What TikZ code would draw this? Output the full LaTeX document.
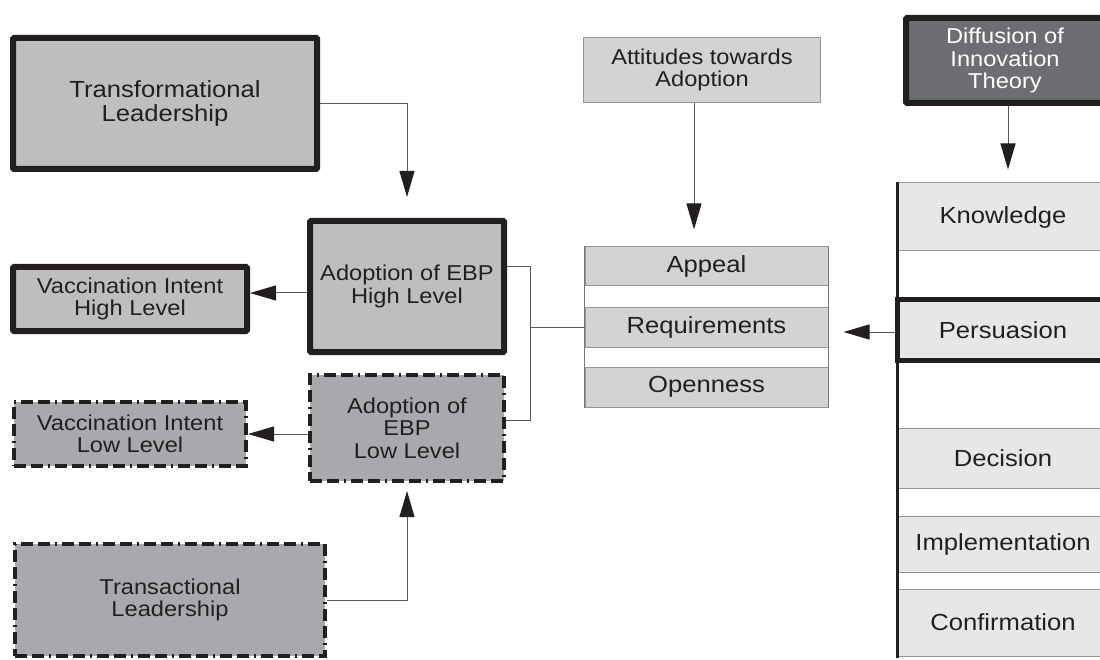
\documentclass[tikz,border=0pt]{standalone}
\usepackage{fontspec}
\setmainfont{Liberation Sans}[FakeStretch=1.1]
\usetikzlibrary{arrows.meta,calc}
\definecolor{ink}{HTML}{231F20}
\definecolor{gmid}{HTML}{BDBEC0}
\definecolor{gdark}{HTML}{A7A9AC}
\definecolor{glight}{HTML}{D1D3D4}
\definecolor{gpale}{HTML}{E6E7E8}
\definecolor{gdeep}{HTML}{6D6E71}
\definecolor{wire}{HTML}{58595B}
\definecolor{edge}{HTML}{939598}
\newcommand\fbig{\fontsize{23.3}{24.3}\selectfont}
\newcommand\fsml{\fontsize{21.5}{22.5}\selectfont}
\tikzset{
  box/.style={rectangle, inner sep=0pt, align=center, text=ink, font=\fsml},
  heavy/.style={box, draw=ink, line width=6pt, rounded corners=1pt},
  dashbox/.style={box, draw=ink, line width=4pt,
     dash pattern=on 12pt off 5pt on 12pt off 5pt on 2pt off 5pt},
  thinbox/.style={box, draw=edge, line width=1pt},
  conn/.style={draw=wire, line width=1pt},
  arr/.style={conn, -{Triangle[length=26pt,width=15pt,color=ink]}},
}
\begin{document}
\begin{tikzpicture}[x=1pt,y=-1pt]
\useasboundingbox (0,0) rectangle (1100,660);
\clip (0,0) rectangle (1100,660);
% left column
\node[heavy, fill=gmid, font=\fbig, minimum width=304pt, minimum height=131pt] (TL) at (165,103.5) {Transformational\\Leadership};
\node[heavy, fill=gmid, minimum width=234pt, minimum height=64pt] (VH) at (130,299) {Vaccination Intent\\High Level};
\node[dashbox, fill=gdark, minimum width=232pt, minimum height=64pt] (VL) at (130,434) {Vaccination Intent\\Low Level};
\node[dashbox, fill=gdark, minimum width=310pt, minimum height=112pt] (TR) at (170,600) {Transactional\\Leadership};
% adoption
\node[heavy, fill=gmid, minimum width=194pt, minimum height=131pt] (AH) at (407,286.5) {Adoption of EBP\\High Level};
\node[dashbox, fill=gdark, minimum width=194pt, minimum height=106pt] (AL) at (407,428) {Adoption of\\EBP\\Low Level};
% attitudes
\node[thinbox, fill=glight, minimum width=237pt, minimum height=65pt] (ATT) at (702,70) {Attitudes towards\\Adoption};
\node[thinbox, fill=glight, font=\fbig, minimum width=243pt, minimum height=39pt] (AP) at (706.5,266.5) {Appeal};
\node[thinbox, fill=glight, font=\fbig, minimum width=243pt, minimum height=40pt] (RQ) at (706.5,327) {Requirements};
\node[thinbox, fill=glight, font=\fbig, minimum width=243pt, minimum height=40pt] (OP) at (706.5,387) {Openness};
\draw[draw=edge!80!black, line width=1.2pt] (AP.north west) -- (OP.south west);
\draw[draw=edge!80!black, line width=1.2pt] (AP.north east) -- (OP.south east);
% diffusion
\node[heavy, fill=gdeep, text=white, minimum width=198pt, minimum height=85pt] (DIT) at (1005,60.5) {Diffusion of\\Innovation\\Theory};
\node[thinbox, fill=gpale, font=\fbig, minimum width=210pt, minimum height=68pt] (KN) at (1003,217) {Knowledge};
\node[box, draw=ink, line width=5pt, fill=gpale, font=\fbig, minimum width=211pt, minimum height=61pt] (PE) at (1003,330) {Persuasion};
\node[thinbox, fill=gpale, font=\fbig, minimum width=210pt, minimum height=60pt] (DE) at (1003,458) {Decision};
\node[thinbox, fill=gpale, font=\fbig, minimum width=210pt, minimum height=56pt] (IM) at (1003,544) {Implementation};
\node[thinbox, fill=gpale, font=\fbig, minimum width=210pt, minimum height=67pt] (CO) at (1003,622.5) {Confirmation};
\draw[draw=ink, line width=3pt] (KN.north west) -- ([yshift=-1pt]CO.south west);
% connectors
\draw[arr, shorten >=21pt] (TL.east) -| (AH.north);
\draw[arr] ([yshift=-6.5pt]AH.west) -- ([yshift=-6.5pt]AH.west -| VH.east);
\draw[arr] (AL.west |- VL.east) -- (VL.east);
\draw[arr, shorten >=8pt] (TR.east) -| (AL.south);
\coordinate (bt) at (530,267);
\coordinate (bb) at (530,420);
\draw[conn] (AH.east |- bt) -- (bt) -- (bb) -- (AL.east |- bb);
\draw[conn] (bt |- RQ.west) -- (RQ.west);
\draw[arr, shorten >=17pt] ([xshift=-8pt]ATT.south) -- ([xshift=-8pt]ATT.south |- AP.north);
\draw[arr, shorten >=13pt] ([xshift=3pt]DIT.south) -- ([xshift=3pt]DIT.south |- KN.north);
\draw[arr, shorten >=15pt] ([yshift=-2pt]PE.west) -- ([yshift=-2pt]PE.west -| RQ.east);
\end{tikzpicture}
\end{document}
